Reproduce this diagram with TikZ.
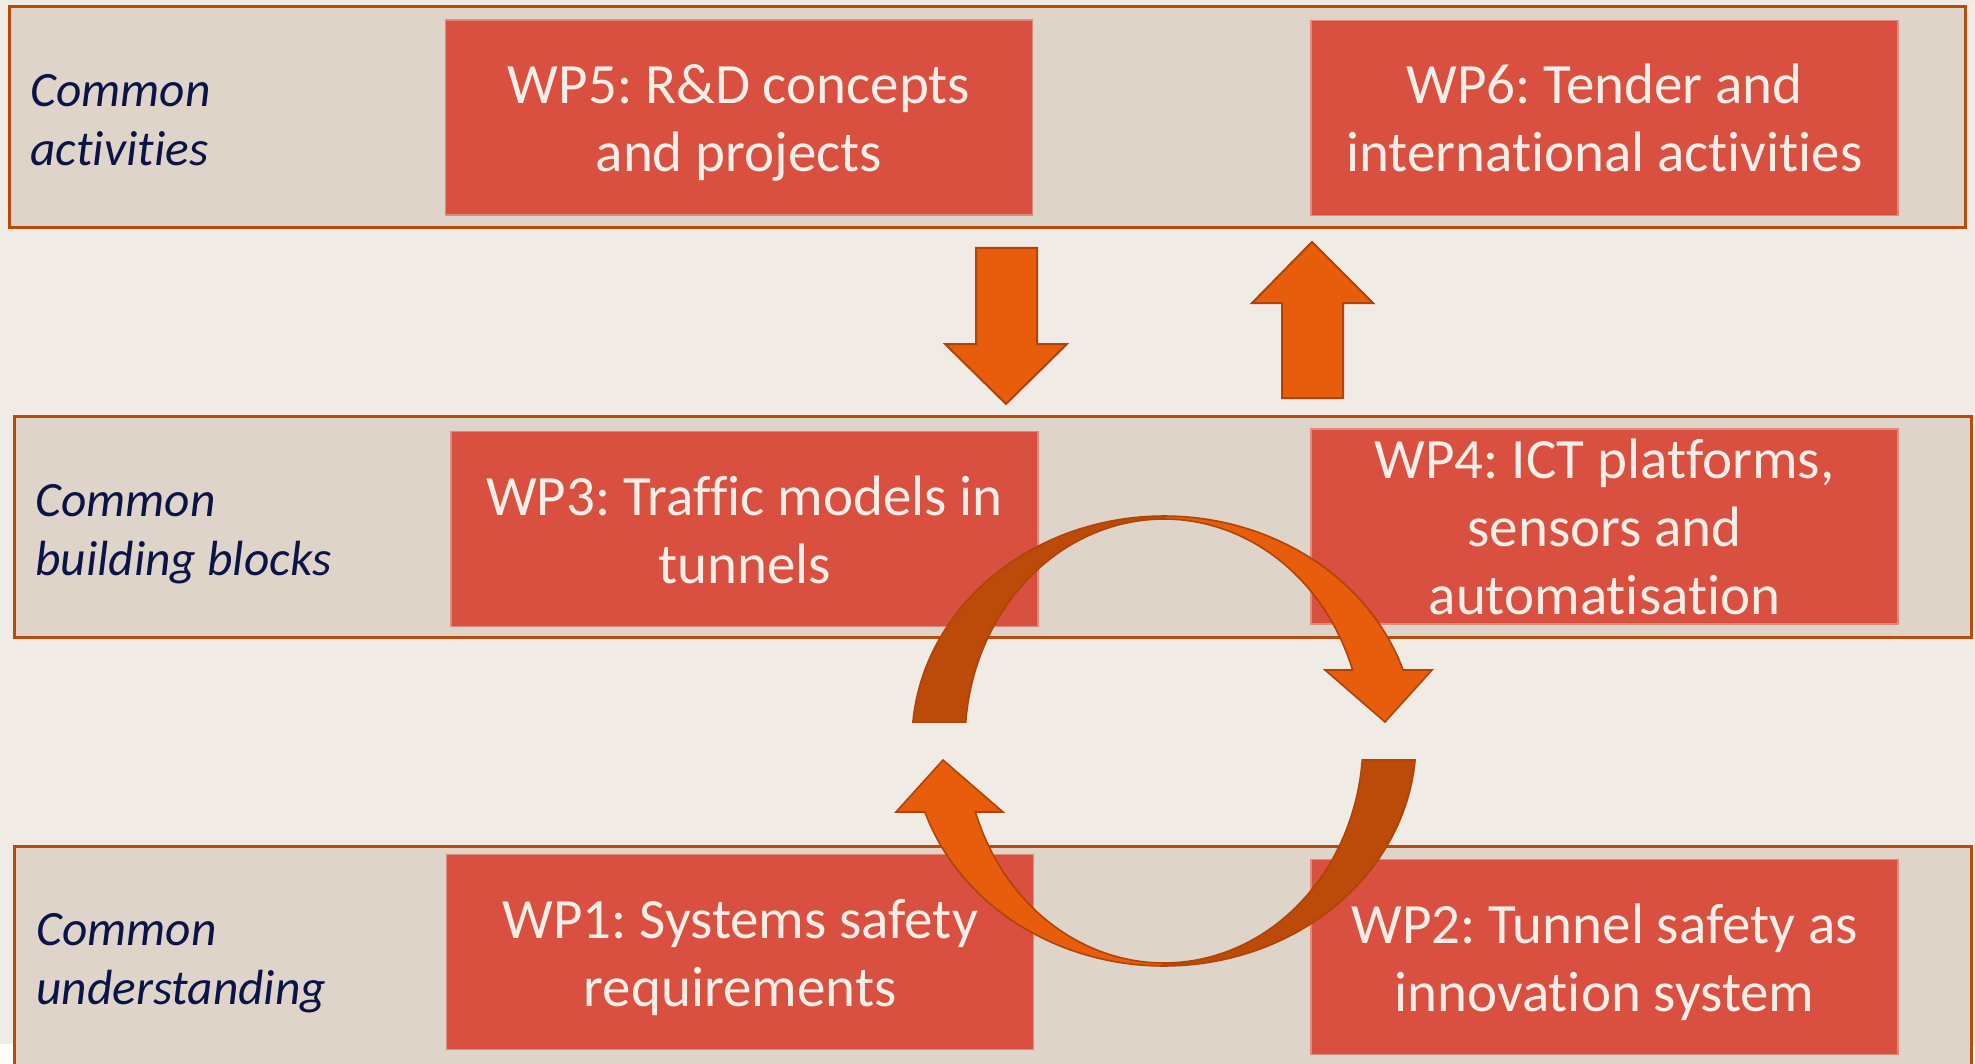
\documentclass[tikz,border=0pt]{standalone}
\usepackage{fontspec}
\setmainfont{Carlito}[Ligatures=NoCommon]
\frenchspacing
\definecolor{pagebg}{HTML}{F0EBE4}
\definecolor{bandfill}{HTML}{DED4CA}
\definecolor{bandedge}{HTML}{BA4A0C}
\definecolor{wpfill}{HTML}{D95040}
\definecolor{wpedge}{HTML}{E08A7C}
\definecolor{wptext}{HTML}{F3EFE8}
\definecolor{labeltext}{HTML}{0B1446}
\definecolor{arrowfill}{HTML}{E85D0C}
\definecolor{arrowdark}{HTML}{BC4A08}
\definecolor{arrowedge}{HTML}{B04406}
% struts giving every line the same height and depth
\newcommand\wpline{\rule[-7pt]{0pt}{34pt}}
\newcommand\wpthree{\rule[-4.5pt]{0pt}{29pt}}
\newcommand\labline{\rule[-5.25pt]{0pt}{29.5pt}}
\begin{document}
\begin{tikzpicture}[x=0.5pt,y=-0.5pt,
  band/.style n args={2}{draw=bandedge, line width=1.5pt, fill=bandfill,
    inner sep=0pt, minimum width=#1, minimum height=#2},
  wpbox/.style={fill=wpfill, draw=wpedge, line width=0.6pt, text=wptext,
    align=center, inner sep=0pt, minimum width=293.5pt, minimum height=97.5pt,
    font=\fontsize{28.5}{34}\selectfont},
  rowlabel/.style={anchor=west, align=left, inner sep=0pt, text=labeltext,
    font=\fontsize{24.7}{29.5}\selectfont\itshape},
  blockarrow/.style={fill=arrowfill, draw=arrowedge, line width=1pt, line join=miter},
  ringback/.style={fill=arrowdark, draw=arrowedge, line width=0.8pt},
  ringfront/.style={fill=arrowfill, draw=arrowedge, line width=0.8pt, line join=miter}]

\useasboundingbox (0,0) rectangle (1975,1064);
\clip (0,0) rectangle (1975,1064);
\fill[pagebg] (0,0) rectangle (1975,1064);

% the three horizontal bands
\node[band={978pt}{110.5pt}] (band1) at (987,117.5) {};
\node[band={978.5pt}{110.5pt}] (band2) at (992.5,526.5) {};
\node[band={978.5pt}{127pt}] (band3) at (992.5,973) {};

% slide edge showing at the lower corners
\fill[white] (0,1044) rectangle (13,1064);
\fill[white] (1973,1045) rectangle (1975,1064);

% row labels
\node[rowlabel] (lab1) at (30,117.5) {\labline Common\\\labline activities};
\node[rowlabel] (lab2) at (35,526.5) {\labline Common\\\labline building blocks};
\node[rowlabel] (lab3) at (36,955.5) {\labline Common\\\labline understanding};

% work packages
\node[wpbox] (wp5) at (739,117.5) {\wpline WP5: R\&D concepts\\\wpline and projects};
\node[wpbox] (wp6) at (1604.5,118) {\wpline WP6: Tender and\\\wpline international activities};
\node[wpbox] (wp3) at (744.5,529) {\wpline WP3: Traffic models in\\\wpline tunnels};
\node[wpbox] (wp4) at (1604.5,526.5) {\wpthree WP4: ICT platforms,\\\wpthree sensors and\\\wpthree automatisation};
\node[wpbox] (wp1) at (740,952) {\wpline WP1: Systems safety\\\wpline requirements};
\node[wpbox] (wp2) at (1604.5,957) {\wpline WP2: Tunnel safety as\\\wpline innovation system};

% block arrows between the top and middle rows
\draw[blockarrow] (976,248) -- (1037,248) -- (1037,344) -- (1067,344)
  -- (1006,404) -- (945,344) -- (976,344) -- cycle;
\draw[blockarrow] (1312,242) -- (1373,303) -- (1343,303) -- (1343,398)
  -- (1282,398) -- (1282,303) -- (1252,303) -- cycle;

% circular arrows round the cycle centre
\def\cx{1164}
\def\cy{741}
% upper arrow: back part on the left, front part ending in the head on the right
\draw[ringback] plot[domain=175.2:90, samples=50, variable=\t]
    ({\cx+252*cos(\t)},{\cy-225*sin(\t)})
  -- plot[domain=90:175.1, samples=50, variable=\t]
    ({\cx+199*cos(\t)},{\cy-222*sin(\t)}) -- cycle;
\draw[ringfront] plot[domain=90:18.4, samples=50, variable=\t]
    ({\cx+252*cos(\t)},{\cy-225*sin(\t)})
  -- (1432,670) -- (1385,722) -- (1325,670)
  -- plot[domain=18.65:90, samples=50, variable=\t]
    ({\cx+199*cos(\t)},{\cy-222*sin(\t)}) -- cycle;
% lower arrow: back part on the right, front part ending in the head on the left
\draw[ringback] plot[domain=-4.8:-90, samples=50, variable=\t]
    ({\cx+252*cos(\t)},{\cy-225*sin(\t)})
  -- plot[domain=-90:-4.9, samples=50, variable=\t]
    ({\cx+199*cos(\t)},{\cy-222*sin(\t)}) -- cycle;
\draw[ringfront] plot[domain=-90:-161.6, samples=50, variable=\t]
    ({\cx+252*cos(\t)},{\cy-225*sin(\t)})
  -- (896,812) -- (943,760) -- (1003,812)
  -- plot[domain=-161.35:-90, samples=50, variable=\t]
    ({\cx+199*cos(\t)},{\cy-222*sin(\t)}) -- cycle;
\end{tikzpicture}
\end{document}
